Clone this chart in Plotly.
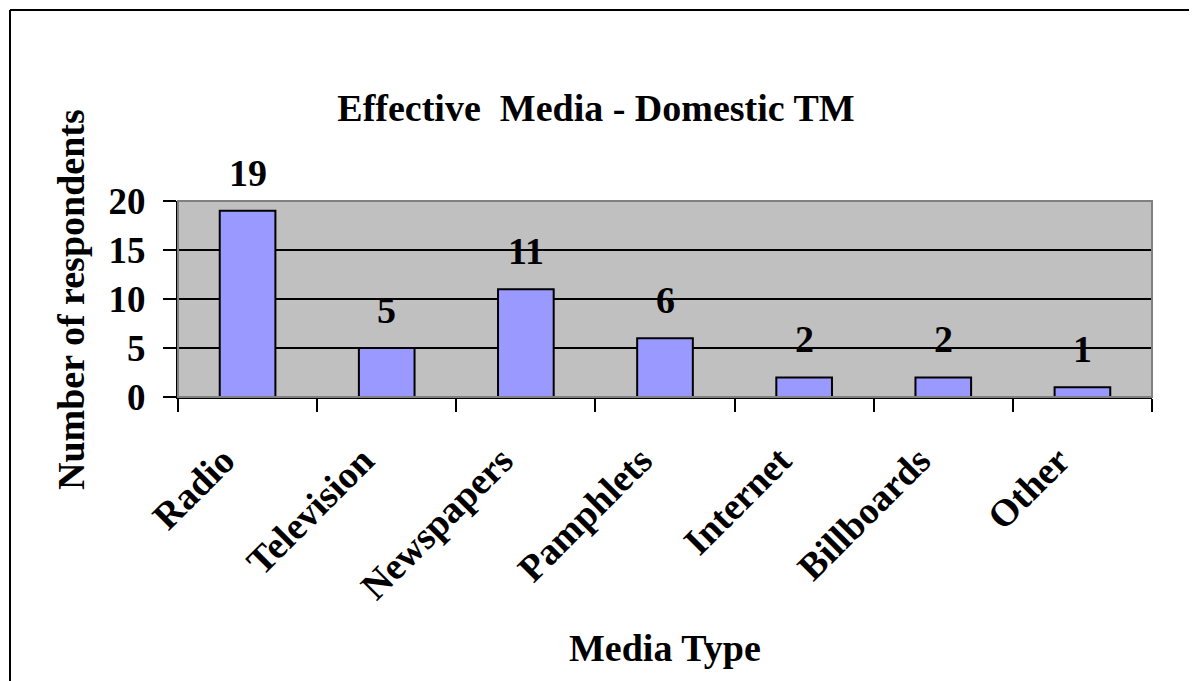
import plotly.graph_objects as go

categories = ["Radio", "Television", "Newspapers", "Pamphlets", "Internet", "Billboards", "Other"]
respondents = [19, 5, 11, 6, 2, 2, 1]
y_ticks = [0, 5, 10, 15, 20]

FONT = "Times New Roman, Liberation Serif, serif"
# the page has an 8px body margin; positions are in figure coordinates
W, H = 1197, 681
L, T = 170, 193
plot_w, plot_h = 974, 196
R = W - L - plot_w
B = H - T - plot_h


def px_x(x):
    return (x - L) / plot_w


def px_y(y):
    return (T + plot_h - y) / plot_h


fig = go.Figure()
fig.add_trace(go.Bar(
    x=categories, y=respondents, width=0.4,
    marker=dict(color="#9999FF", line=dict(color="black", width=2)),
    hoverinfo="x+y",
))

for c, v in zip(categories, respondents):
    fig.add_annotation(x=c, y=v, text=f"<b>{v}</b>", showarrow=False,
                       yshift=38, yanchor="middle",
                       font=dict(family=FONT, size=38, color="black"))

# axis titles
fig.add_annotation(xref="paper", yref="paper", x=px_x(63), y=px_y(292),
                   text="<b>Number of respondents</b>", textangle=-90, showarrow=False,
                   xanchor="center", yanchor="middle",
                   font=dict(family=FONT, size=38, color="black"))
fig.add_annotation(xref="paper", yref="paper", x=px_x(657), y=px_y(640),
                   text="<b>Media Type</b>", showarrow=False,
                   xanchor="center", yanchor="middle",
                   font=dict(family=FONT, size=38, color="black"))

# plot area border (gray top/right)
fig.add_shape(type="rect", xref="paper", yref="paper", x0=0, x1=1, y0=0, y1=1,
              line=dict(color="#808080", width=2), layer="above")
# outer chart border: only left and top edges fall inside the picture
fig.add_shape(type="line", xref="paper", yref="paper",
              x0=px_x(2), x1=px_x(W + 40), y0=px_y(2), y1=px_y(2),
              line=dict(color="black", width=2), layer="above")
fig.add_shape(type="line", xref="paper", yref="paper",
              x0=px_x(2), x1=px_x(2), y0=px_y(2), y1=px_y(H + 40),
              line=dict(color="black", width=2), layer="above")

fig.update_layout(
    width=W, height=H,
    margin=dict(l=L, r=R, t=T, b=B),
    paper_bgcolor="white", plot_bgcolor="#C0C0C0",
    showlegend=False,
    title=dict(text="<b>Effective\u00a0\u00a0Media - Domestic TM</b>", x=588 / W, xanchor="center",
               y=1 - 100 / H, yanchor="middle",
               font=dict(family=FONT, size=38, color="black")),
    font=dict(family=FONT, color="black"),
)
fig.update_xaxes(
    type="category", tickangle=-45, tickson="boundaries",
    ticks="outside", ticklen=13, tickwidth=2, tickcolor="black",
    showline=True, linecolor="black", linewidth=2,
    showgrid=False,
    tickfont=dict(family=FONT, size=38, color="black"),
    tickprefix="<b>", ticksuffix="</b>",
    ticklabelshift=-24, ticklabelstandoff=24,
)
fig.update_yaxes(
    range=[0, 20], tickvals=y_ticks, ticktext=[f"<b>{t}</b>" for t in y_ticks],
    ticks="outside", ticklen=13, tickwidth=2, tickcolor="black",
    showline=True, linecolor="black", linewidth=2,
    showgrid=True, gridcolor="black", gridwidth=2, zeroline=False,
    tickfont=dict(family=FONT, size=37, color="black"),
    ticklabelstandoff=10,
)

fig.write_html("out.html")
